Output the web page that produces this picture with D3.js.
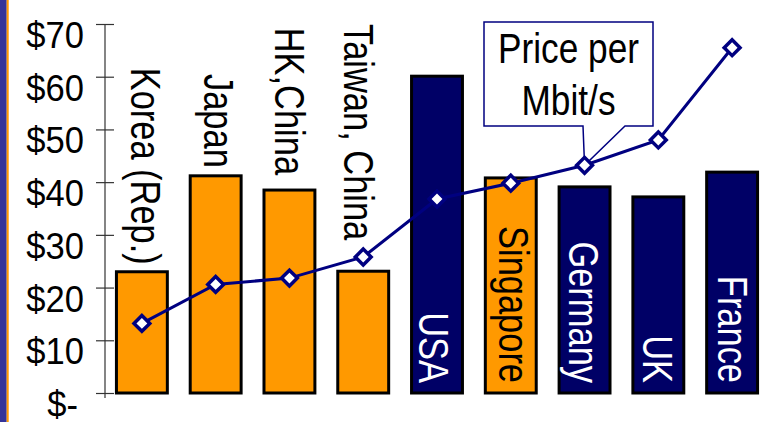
<!DOCTYPE html>
<html>
<head>
<meta charset="utf-8">
<script src="https://cdn.jsdelivr.net/npm/d3@7"></script>
<style>
  html, body { margin: 0; padding: 0; background: #fff; }
  svg { display: block; }
  text { font-family: "Liberation Sans", Arial, sans-serif; }
</style>
</head>
<body>
<svg id="chart" width="769" height="422"></svg>
<script>
// ---- data ----
const categories = ["Korea (Rep.)", "Japan", "HK,China", "Taiwan, China", "USA", "Singapore", "Germany", "UK", "France"];
const regions = ["Asia", "Asia", "Asia", "Asia", "Other", "Asia", "Other", "Other", "Other"];
const barValues = [23, 41.2, 38.5, 23.1, 60.1, 40.8, 39.1, 37.2, 41.9];
const pricePerMbit = [13.2, 20.6, 21.8, 25.8, 36.8, 39.8, 43.2, 48.0, 65.5];
const labelInside = [false, false, false, false, true, true, true, true, true];
const tickValues = [0, 10, 20, 30, 40, 50, 60, 70];
const tickLabels = ["$-", "$10", "$20", "$30", "$40", "$50", "$60", "$70"];
const calloutLines = ["Price per", "Mbit/s"];
const calloutIndex = 6;

// label placement tweaks (layout only)
const labelDx = [-11, -12, -14, -19, -18, -12, -16, -15, -14];
const labelGap = [7, 8, 15, 31, 10, 10, 10, 10, 10];

// ---- drawing ----
const svg = d3.select("#chart");
const navy = "#000066";
const lineColor = "#000080";
const orange = "#FF9900";

// left decoration strip
svg.append("rect").attr("x", 0).attr("y", 0).attr("width", 6.7).attr("height", 422).attr("fill", "#333399");
svg.append("rect").attr("x", 6.7).attr("y", 0).attr("width", 2).attr("height", 422).attr("fill", orange);

const x = d3.scaleBand().domain(categories).range([105, 769]).paddingInner(0.31).paddingOuter(0.155);
const y = d3.scaleLinear().domain([0, 70]).range([393, 24]);
const color = d3.scaleOrdinal().domain(["Asia", "Other"]).range([orange, navy]);

// y axis
const axis = svg.append("g").attr("transform", "translate(105,0)")
  .call(d3.axisLeft(y).tickValues(tickValues).tickSize(9).tickFormat(""));
axis.select(".domain").remove();
axis.selectAll(".tick line").attr("x1", -9).attr("x2", 9).attr("stroke", "#333").attr("stroke-width", 1.2);
axis.append("line").attr("x1", 0).attr("x2", 0).attr("y1", y(70)).attr("y2", y(0) + 5)
  .attr("stroke", "#333").attr("stroke-width", 1.2);

svg.append("g").selectAll("text").data(tickValues).join("text")
  .attr("transform", (d, i) => `translate(${i === 0 ? 78 : 84},${y(d) + 24}) scale(0.96,1)`)
  .attr("text-anchor", "end")
  .attr("font-size", 36)
  .attr("fill", "#000")
  .text((d, i) => tickLabels[i]);

// bars
svg.append("g").selectAll("rect").data(categories).join("rect")
  .attr("x", d => x(d))
  .attr("y", (d, i) => y(barValues[i]))
  .attr("width", x.bandwidth())
  .attr("height", (d, i) => y(0) - y(barValues[i]))
  .attr("fill", (d, i) => color(regions[i]))
  .attr("stroke", "#000")
  .attr("stroke-width", 3);

// category labels (rotated)
svg.append("g").selectAll("text").data(categories).join("text")
  .attr("transform", (d, i) => {
    const cx = x(d) + x.bandwidth() / 2 + labelDx[i];
    const yEnd = labelInside[i] ? y(0) - labelGap[i] : y(barValues[i]) - labelGap[i];
    return `translate(${cx},${yEnd}) rotate(90) scale(0.82,1)`;
  })
  .attr("text-anchor", "end")
  .attr("font-size", 42)
  .attr("fill", (d, i) => (labelInside[i] && regions[i] !== "Asia") ? "#fff" : "#000")
  .text(d => d);

// price line
const cx = (d, i) => x(categories[i]) + x.bandwidth() / 2;
svg.append("path")
  .datum(pricePerMbit)
  .attr("d", d3.line().x((d, i) => cx(d, i)).y(d => y(d)))
  .attr("fill", "none")
  .attr("stroke", lineColor)
  .attr("stroke-width", 3);

// callout
const tipX = cx(null, calloutIndex), tipY = y(pricePerMbit[calloutIndex]);
const bx0 = 484, bx1 = 653, by0 = 22, by1 = 126;
svg.append("path")
  .attr("d", `M${bx0},${by0}H${bx1}V${by1}H625L${tipX},${tipY}L583,${by1}H${bx0}Z`)
  .attr("fill", "#fff")
  .attr("stroke", lineColor)
  .attr("stroke-width", 1.5);
svg.append("g").selectAll("text").data(calloutLines).join("text")
  .attr("transform", (d, i) => `translate(${(bx0 + bx1) / 2},${63 + i * 52}) scale(0.84,1)`)
  .attr("text-anchor", "middle")
  .attr("font-size", 42)
  .attr("fill", "#000")
  .text(d => d);

// markers
svg.append("g").selectAll("path").data(pricePerMbit).join("path")
  .attr("transform", (d, i) => `translate(${cx(d, i)},${y(d)}) rotate(45)`)
  .attr("d", d3.symbol().type(d3.symbolSquare).size(125))
  .attr("fill", "#fff")
  .attr("stroke", lineColor)
  .attr("stroke-width", 3.5);
</script>
</body>
</html>
